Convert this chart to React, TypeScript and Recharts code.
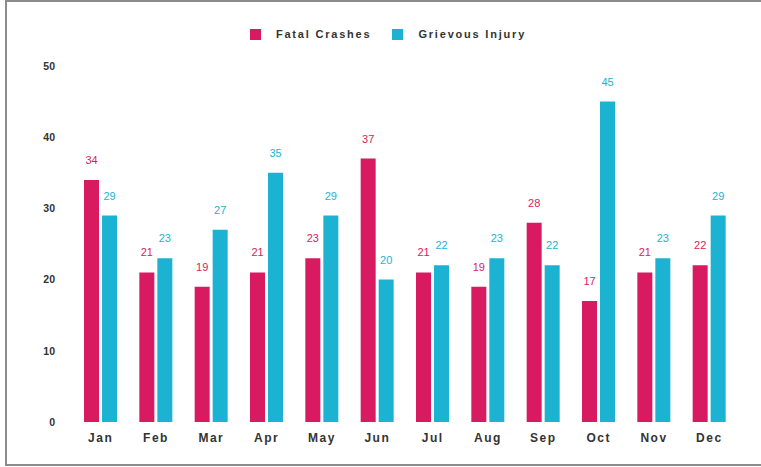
import React from "react";
import { BarChart, Bar, XAxis, YAxis, LabelList } from "recharts";

const months = ["Jan", "Feb", "Mar", "Apr", "May", "Jun", "Jul", "Aug", "Sep", "Oct", "Nov", "Dec"];
const fatalCrashes = [34, 21, 19, 21, 23, 37, 21, 19, 28, 17, 21, 22];
const grievousInjury = [29, 23, 27, 35, 29, 20, 22, 23, 22, 45, 23, 29];
const yTicks = [0, 10, 20, 30, 40, 50];

const PINK = "#D81B60";
const CYAN = "#1BB3D1";
const FONT = "'Liberation Sans', Arial, sans-serif";

const data = months.map((m, i) => ({
  month: m,
  fatal: fatalCrashes[i],
  grievous: grievousInjury[i],
}));

const legendItems = [
  { name: "Fatal Crashes", color: PINK },
  { name: "Grievous Injury", color: CYAN },
];

export default function App() {
  return (
    <div
      style={{
        position: "absolute",
        left: 5,
        top: 0,
        width: 800,
        height: 466,
        boxSizing: "border-box",
        border: "2px solid #8c8c8c",
        background: "#fff",
        fontFamily: FONT,
      }}
    >
      {/* legend sits above the plot, centred on the chart width */}
      <div
        style={{
          position: "absolute",
          left: 0,
          top: 26,
          width: 762,
          display: "flex",
          justifyContent: "center",
          gap: 21,
        }}
      >
        {legendItems.map((it) => (
          <div key={it.name} style={{ display: "flex", alignItems: "center", gap: 15 }}>
            <span style={{ width: 11, height: 11, background: it.color, display: "inline-block" }} />
            <span style={{ fontSize: 11, fontWeight: 700, color: "#333", letterSpacing: 1.8 }}>{it.name}</span>
          </div>
        ))}
      </div>
      <BarChart
        width={762}
        height={462}
        data={data}
        margin={{ top: 64, right: 32, left: 6, bottom: 12 }}
        barSize={15}
        barGap={3}
      >
        <XAxis
          dataKey="month"
          axisLine={false}
          tickLine={false}
          tickMargin={5}
          tick={{ fill: "#333", fontSize: 12, fontWeight: 700, letterSpacing: 1.5, fontFamily: FONT }}
        />
        <YAxis
          width={60}
          domain={[0, 50]}
          ticks={yTicks}
          axisLine={false}
          tickLine={false}
          tickMargin={12}
          tick={{ fill: "#333", fontSize: 10.5, fontWeight: 700, fontFamily: FONT }}
        />
        <Bar dataKey="fatal" fill={PINK} isAnimationActive={false}>
          <LabelList dataKey="fatal" position="top" offset={16} fill={PINK} fontSize={11} fontFamily={FONT} />
        </Bar>
        <Bar dataKey="grievous" fill={CYAN} isAnimationActive={false}>
          <LabelList dataKey="grievous" position="top" offset={16} fill={CYAN} fontSize={11} fontFamily={FONT} />
        </Bar>
      </BarChart>
    </div>
  );
}
